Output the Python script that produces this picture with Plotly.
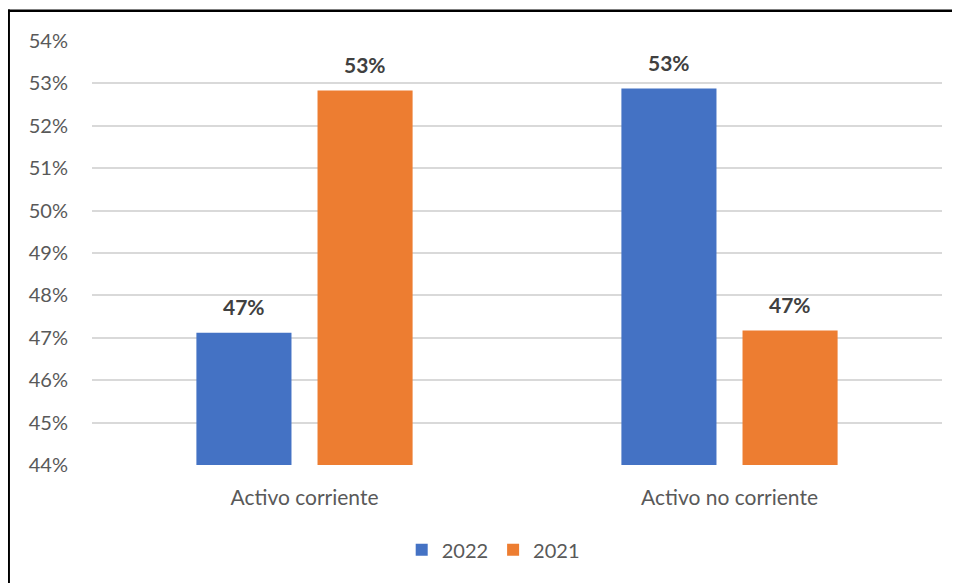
import plotly.graph_objects as go

categories = ["Activo corriente", "Activo no corriente"]
series_names = ["2022", "2021"]
values_2022 = [47.12, 52.88]
values_2021 = [52.83, 47.17]
labels_2022 = ["47%", "53%"]
labels_2021 = ["53%", "47%"]
y_ticks = [44, 45, 46, 47, 48, 49, 50, 51, 52, 53, 54]
y_tick_labels = [f"{v}%" for v in y_ticks]

colors = ["#4472C4", "#ED7D31"]
FONT = "Lato"

fig = go.Figure()
fig.add_trace(go.Bar(name=series_names[0], x=categories, y=values_2022,
                     marker=dict(color=colors[0], line=dict(width=0))))
fig.add_trace(go.Bar(name=series_names[1], x=categories, y=values_2021,
                     marker=dict(color=colors[1], line=dict(width=0))))

annotations = []
for vals, labs, shift in [(values_2022, labels_2022, -60.5), (values_2021, labels_2021, 60.5)]:
    for c, v, t in zip(categories, vals, labs):
        annotations.append(dict(x=c, y=v, xref="x", yref="y", text=f"<b>{t}</b>",
                                showarrow=False, xshift=shift, yshift=26,
                                font=dict(family=FONT, size=21, color="#404040")))

fig.update_layout(
    width=952, height=575,
    margin=dict(l=84, r=18, t=33, b=118),
    paper_bgcolor="white", plot_bgcolor="white",
    barmode="group", bargap=0.43, bargroupgap=0.215,
    font=dict(family=FONT, size=20, color="#595959"),
    showlegend=True,
    legend=dict(orientation="h", x=0.472, xanchor="center", y=-0.2, yanchor="middle",
                font=dict(family=FONT, size=20, color="#595959"),
                itemwidth=30, traceorder="normal"),
    annotations=annotations,
    shapes=[
        dict(type="line", xref="paper", yref="paper", x0=-0.1, x1=1.03, y0=1.0715, y1=1.0715,
             line=dict(color="black", width=2.5)),
        dict(type="line", xref="paper", yref="paper", x0=-0.098, x1=-0.098, y0=1.074, y1=-0.3,
             line=dict(color="black", width=2.5)),
    ],
)
fig.update_xaxes(showgrid=False, showline=False, ticks="", ticklabelstandoff=18,
                 tickfont=dict(family=FONT, size=21, color="#595959"))
fig.update_yaxes(range=[44, 54], tickvals=y_ticks, ticktext=y_tick_labels,
                 showgrid=True, gridcolor="#D9D9D9", gridwidth=1.5, zeroline=False,
                 showline=False, ticks="", ticklabelstandoff=23,
                 tickfont=dict(family=FONT, size=20, color="#595959"))

fig.write_html("out.html")
